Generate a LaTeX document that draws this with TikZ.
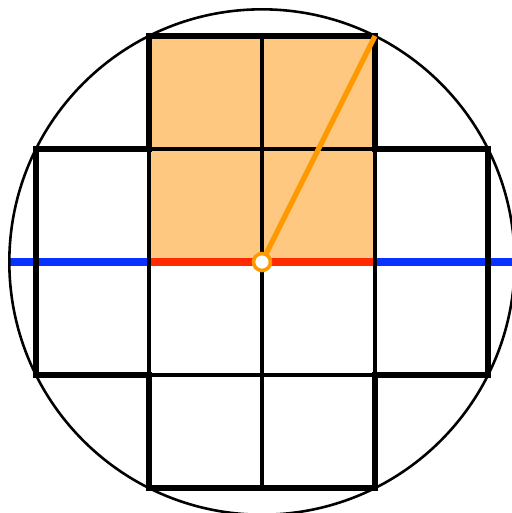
\documentclass[tikz,border=0pt]{standalone}
\usetikzlibrary{positioning}

\definecolor{lightorange}{HTML}{FFC880}
\definecolor{darkorange}{HTML}{FF9900}
\definecolor{axisblue}{HTML}{0A32FF}
\definecolor{axisred}{HTML}{FF2A00}

\begin{document}
\begin{tikzpicture}[
    x=1cm,
    y=1cm,
    inner line/.style={black, line width=0.95pt},
    outer line/.style={black, line width=1.7pt, line join=miter},
    axis line/.style={line width=2pt},
    center dot/.style={
        circle,
        draw=darkorange,
        fill=white,
        line width=0.9pt,
        minimum size=0.15cm,
        inner sep=0pt,
    },
]
\useasboundingbox (-2.3186,-2.2212) rectangle (2.2035,2.3186);

% --- Shaded block ---
\fill[lightorange] (-1,0) rectangle (1,2);

% --- Coordinates ---
\coordinate (left)   at (-2.2361,0);
\coordinate (right)  at (2.2361,0);
\coordinate (a)      at (-1,0);
\coordinate (b)      at (1,0);
\coordinate (corner) at (1,2);

% --- Diameter ---
\draw[axis line, axisblue] (left) -- (a);
\draw[axis line, axisblue] (b) -- (right);
\draw[axis line, axisred] (a) -- (b);

% --- Inner grid ---
\draw[inner line] (0,-2) -- (0,2);
\draw[inner line] (-1,-1) -- (-1,1);
\draw[inner line] (1,-1) -- (1,1);
\draw[inner line] (-1,1) -- (1,1);
\draw[inner line] (-1,-1) -- (1,-1);

% --- Cross outline ---
\draw[outer line] (-1,2) -- (1,2) -- (1,1) -- (2,1) -- (2,-1) -- (1,-1)
    -- (1,-2) -- (-1,-2) -- (-1,-1) -- (-2,-1) -- (-2,1) -- (-1,1) -- cycle;

% --- Circle ---
\draw[black, line width=0.65pt] (0,0) circle (2.2361);

% --- Radius ---
\node[center dot] (o) at (0,0) {};
\draw[darkorange, line width=1.3pt] (o) -- (corner);

\end{tikzpicture}
\end{document}
